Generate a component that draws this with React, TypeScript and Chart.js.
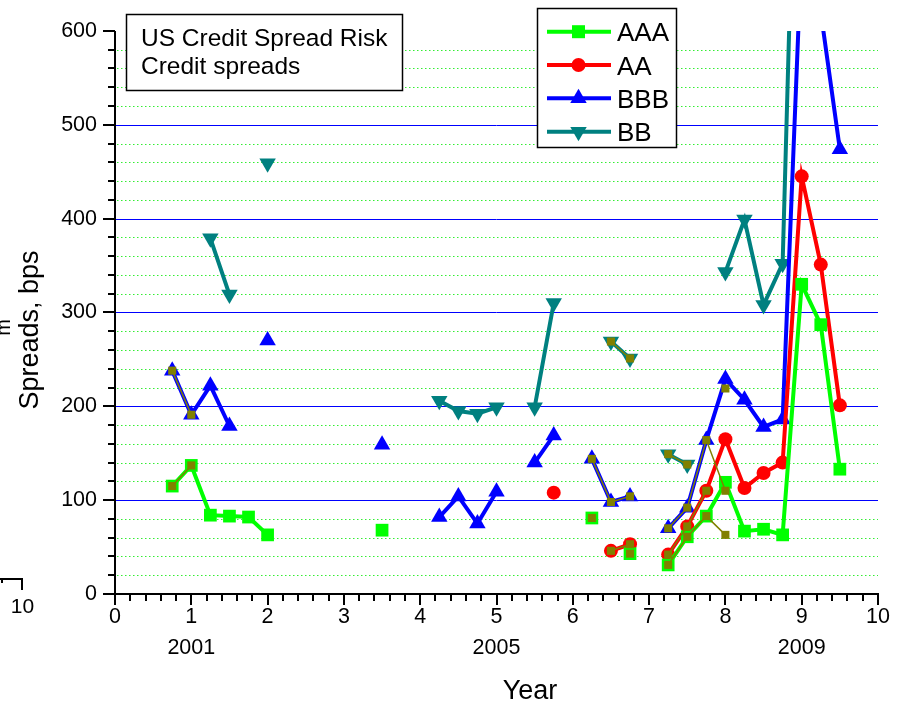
import React, { useEffect, useRef } from 'react';
import { Chart, registerables } from 'chart.js';

Chart.register(...registerables);

const FONT = '"Liberation Sans", Arial, Helvetica, sans-serif';

// x positions (quarters, axis units 0..10)
const xYears = [
  0.75, 1, 1.25, 1.5, 1.75, 2, 2.25, 2.5, 2.75, 3, 3.25, 3.5,
  3.75, 4, 4.25, 4.5, 4.75, 5, 5.25, 5.5, 5.75, 6, 6.25, 6.5,
  6.75, 7, 7.25, 7.5, 7.75, 8, 8.25, 8.5, 8.75, 9, 9.25, 9.5,
];
const N = null;

// main series (bps)
const seriesAAA = [
  115, 137, 84, 83, 82, 63, N, N, N, N, N, 68,
  N, N, N, N, N, N, N, N, N, N, 81, N,
  43, N, 31, 61, 83, 119, 67, 69, 63, 330, 287, 133,
];
const seriesAA = [
  N, N, N, N, N, N, N, N, N, N, N, N,
  N, N, N, N, N, N, N, N, 108, N, N, 46,
  53, N, 42, 72, 110, 165, 113, 129, 140, 445, 351, 201,
];
const seriesBBB = [
  238, 191, 222, 179, N, 270, N, N, N, N, N, 159,
  N, N, 82, 104, 75, 109, N, 140, 169, N, 144, 98,
  104, N, 70, 92, 164, 229, 207, 178, 186, 690, 620, 474,
];
const seriesBB = [
  N, N, 379, 319, N, 459, N, N, N, N, N, N,
  N, N, 206, 195, 192, 199, N, 199, 310, N, N, 269,
  251, N, 149, 138, N, 343, 399, 308, 352, 1080, N, N,
];

// olive overlay series
const oliveA = [
  115, 137, N, N, N, N, N, N, N, N, N, N,
  N, N, N, N, N, N, N, N, N, N, 81, N,
  43, N, 31, 61, 83, 63, N, N, N, N, N, N,
];
const oliveB = [
  N, N, N, N, N, N, N, N, N, N, N, N,
  N, N, N, N, N, N, N, N, N, N, N, 46,
  53, N, 42, 72, 110, N, N, N, N, N, N, N,
];
const oliveC = [
  238, 191, N, N, N, N, N, N, N, N, N, N,
  N, N, N, N, N, N, N, N, N, N, 144, 98,
  104, N, 70, 92, 164, 110, N, N, N, N, N, N,
];
const oliveD = [
  N, N, N, N, N, N, N, N, N, N, N, N,
  N, N, N, N, N, N, N, N, N, N, N, 269,
  251, N, 149, 138, N, 219, N, N, N, N, N, N,
];

const yearTickPos = [1, 5, 9];
const yearTickLabels = ['2001', '2005', '2009'];
const legendLabels = ['AAA', 'AA', 'BBB', 'BB'];
const titleLines = ['US Credit Spread Risk', 'Credit spreads'];
const xTitle = 'Year';
const yTitle = 'Spreads, bps';
const stray10 = '10';
const strayM = 'm';

const COLORS = ['#00ff00', '#ff0000', '#0000ff', '#008080'];
const OLIVE = '#808000';

const toPoints = (arr: (number | null)[]) => arr.map((v, i) => ({ x: xYears[i], y: v }));

function drawMarker(ctx: CanvasRenderingContext2D, kind: number, cx: number, cy: number) {
  ctx.beginPath();
  if (kind === 0) {
    ctx.rect(cx - 6.5, cy - 6.5, 13, 13);
  } else if (kind === 1) {
    ctx.arc(cx, cy, 7, 0, Math.PI * 2);
  } else if (kind === 2) {
    const r = 9.5;
    ctx.moveTo(cx, cy - r);
    ctx.lineTo(cx + r * 0.866, cy + r / 2);
    ctx.lineTo(cx - r * 0.866, cy + r / 2);
    ctx.closePath();
  } else {
    const r = 9.5;
    ctx.moveTo(cx, cy + r);
    ctx.lineTo(cx + r * 0.866, cy - r / 2);
    ctx.lineTo(cx - r * 0.866, cy - r / 2);
    ctx.closePath();
  }
  ctx.fill();
}

const decorPlugin = {
  id: 'decor',
  beforeDatasetsDraw(chart: any) {
    const { ctx, chartArea } = chart;
    const { left, right } = chartArea;
    const ys = chart.scales.y;
    ctx.save();
    ctx.lineWidth = 1;
    ctx.strokeStyle = '#33ee33';
    ctx.setLineDash([1.5, 2.5]);
    for (let v = 20; v < 600; v += 20) {
      if (v % 100 === 0) continue;
      const py = Math.round(ys.getPixelForValue(v)) + 0.5;
      ctx.beginPath();
      ctx.moveTo(left + 2, py);
      ctx.lineTo(right, py);
      ctx.stroke();
    }
    ctx.setLineDash([]);
    ctx.strokeStyle = '#0000ff';
    for (let v = 100; v < 600; v += 100) {
      const py = Math.round(ys.getPixelForValue(v)) + 0.5;
      ctx.beginPath();
      ctx.moveTo(left, py);
      ctx.lineTo(right, py);
      ctx.stroke();
    }
    ctx.restore();
  },
  afterDatasetsDraw(chart: any) {
    const { ctx, chartArea } = chart;
    const { left, right, top, bottom } = chartArea;
    const xs = chart.scales.x;
    const ys = chart.scales.y;
    ctx.save();
    ctx.strokeStyle = '#000';
    ctx.lineWidth = 2;
    ctx.beginPath();
    ctx.moveTo(left, top);
    ctx.lineTo(left, bottom + 1);
    ctx.moveTo(left - 1, bottom);
    ctx.lineTo(right + 1, bottom);
    ctx.stroke();
    // y ticks
    for (let v = 0; v <= 600; v += 20) {
      const py = Math.round(ys.getPixelForValue(v));
      const len = v % 100 === 0 ? 12 : 7;
      ctx.beginPath();
      ctx.moveTo(left - len, py);
      ctx.lineTo(left, py);
      ctx.stroke();
    }
    // x ticks
    for (let k = 0; k <= 50; k++) {
      const px = Math.round(xs.getPixelForValue(k / 5));
      const len = k % 5 === 0 ? 11 : 7;
      ctx.beginPath();
      ctx.moveTo(px, bottom);
      ctx.lineTo(px, bottom + len);
      ctx.stroke();
    }
    ctx.restore();
  },
  afterDraw(chart: any) {
    const { ctx } = chart;
    ctx.save();
    ctx.fillStyle = '#000';
    ctx.strokeStyle = '#000';

    // title box
    ctx.fillStyle = '#fff';
    ctx.fillRect(126, 14, 277, 76);
    ctx.lineWidth = 1.5;
    ctx.strokeRect(126.5, 14.5, 276, 76);
    ctx.fillStyle = '#000';
    ctx.font = `24.5px ${FONT}`;
    ctx.textAlign = 'left';
    ctx.textBaseline = 'alphabetic';
    ctx.fillText(titleLines[0], 141, 46);
    ctx.fillText(titleLines[1], 141, 74);

    // legend box
    ctx.fillStyle = '#fff';
    ctx.fillRect(537, 8, 140, 140);
    ctx.strokeRect(537.5, 8.5, 139, 139);
    const rows = [31.7, 65, 98.3, 131.7];
    ctx.font = `26px ${FONT}`;
    legendLabels.forEach((lab, i) => {
      const y = rows[i];
      ctx.strokeStyle = COLORS[i];
      ctx.lineWidth = 4;
      ctx.beginPath();
      ctx.moveTo(547, y);
      ctx.lineTo(611, y);
      ctx.stroke();
      ctx.fillStyle = COLORS[i];
      drawMarker(ctx, i, 578.5, y);
      ctx.fillStyle = '#000';
      ctx.fillText(lab, 617, y + 9.5);
    });

    // axis titles
    ctx.fillStyle = '#000';
    ctx.font = `27px ${FONT}`;
    ctx.textAlign = 'center';
    ctx.fillText(xTitle, 530, 699);
    ctx.save();
    ctx.translate(38, 330);
    ctx.rotate(-Math.PI / 2);
    ctx.fillText(yTitle, 0, 0);
    ctx.restore();

    // stray clipped elements at the left edge
    ctx.save();
    ctx.font = `20px ${FONT}`;
    ctx.translate(10, 327.5);
    ctx.rotate(-Math.PI / 2);
    ctx.fillText(strayM, 0, 0);
    ctx.restore();

    ctx.strokeStyle = '#000';
    ctx.lineWidth = 2;
    ctx.beginPath();
    ctx.moveTo(0, 579);
    ctx.lineTo(22, 579);
    ctx.lineTo(22, 590);
    ctx.moveTo(2, 579);
    ctx.lineTo(2, 583);
    ctx.stroke();
    ctx.font = `21px ${FONT}`;
    ctx.textBaseline = 'middle';
    ctx.fillText(stray10, 22.5, 607.5);
    ctx.restore();
  },
};

export default function App() {
  const ref = useRef<HTMLCanvasElement | null>(null);
  useEffect(() => {
    if (!ref.current) return;
    const main = [seriesAAA, seriesAA, seriesBBB, seriesBB];
    const styles = ['rect', 'circle', 'triangle', 'triangle'];
    const radii = [9, 7, 9.5, 9.5];
    const olive = [oliveA, oliveB, oliveC, oliveD];
    const datasets: any[] = [];
    olive.forEach((arr, i) => {
      datasets.push({
        label: 'olive' + i,
        data: toPoints(arr),
        borderColor: OLIVE,
        backgroundColor: OLIVE,
        borderWidth: 1.5,
        pointStyle: 'rect',
        pointRadius: 5.7,
        pointBorderWidth: 0,
        pointBackgroundColor: OLIVE,
        spanGaps: false,
        order: 0,
      });
    });
    main.forEach((arr, i) => {
      datasets.push({
        label: legendLabels[i],
        data: toPoints(arr),
        borderColor: COLORS[i],
        backgroundColor: COLORS[i],
        borderWidth: 4,
        pointStyle: styles[i],
        pointRotation: i === 3 ? 180 : 0,
        pointRadius: radii[i],
        pointBorderWidth: 0,
        pointBackgroundColor: COLORS[i],
        spanGaps: false,
        order: i + 1,
      });
    });

    const chart = new Chart(ref.current, {
      type: 'line',
      data: { datasets },
      plugins: [decorPlugin],
      options: {
        responsive: false,
        animation: false,
        devicePixelRatio: 1,
        events: [],
        layout: { padding: { left: 0, right: 20, top: 30, bottom: 0 } },
        plugins: { legend: { display: false }, tooltip: { enabled: false }, title: { display: false } },
        scales: {
          x: {
            type: 'linear',
            min: 0,
            max: 10,
            grid: { display: false, drawTicks: false },
            border: { display: false },
            ticks: {
              stepSize: 1,
              autoSkip: false,
              maxRotation: 0,
              padding: 7.5,
              color: '#000',
              font: { family: FONT, size: 21.5, lineHeight: 1.44 },
              callback: (v: any) => {
                const idx = yearTickPos.indexOf(Number(v));
                return idx >= 0 ? [String(v), yearTickLabels[idx]] : String(v);
              },
            },
            afterFit: (s: any) => { s.height = 110; },
          },
          y: {
            type: 'linear',
            min: 0,
            max: 600,
            grid: { display: false, drawTicks: false },
            border: { display: false },
            ticks: {
              stepSize: 100,
              padding: 18,
              color: '#000',
              font: { family: FONT, size: 21.5 },
            },
            afterFit: (s: any) => { s.width = 115; },
          },
        },
      } as any,
    });
    return () => chart.destroy();
  }, []);

  return (
    <div style={{ position: 'absolute', left: 0, top: 0, width: 898, height: 704, background: '#fff' }}>
      <canvas ref={ref} width={898} height={704} style={{ display: 'block' }} />
    </div>
  );
}
